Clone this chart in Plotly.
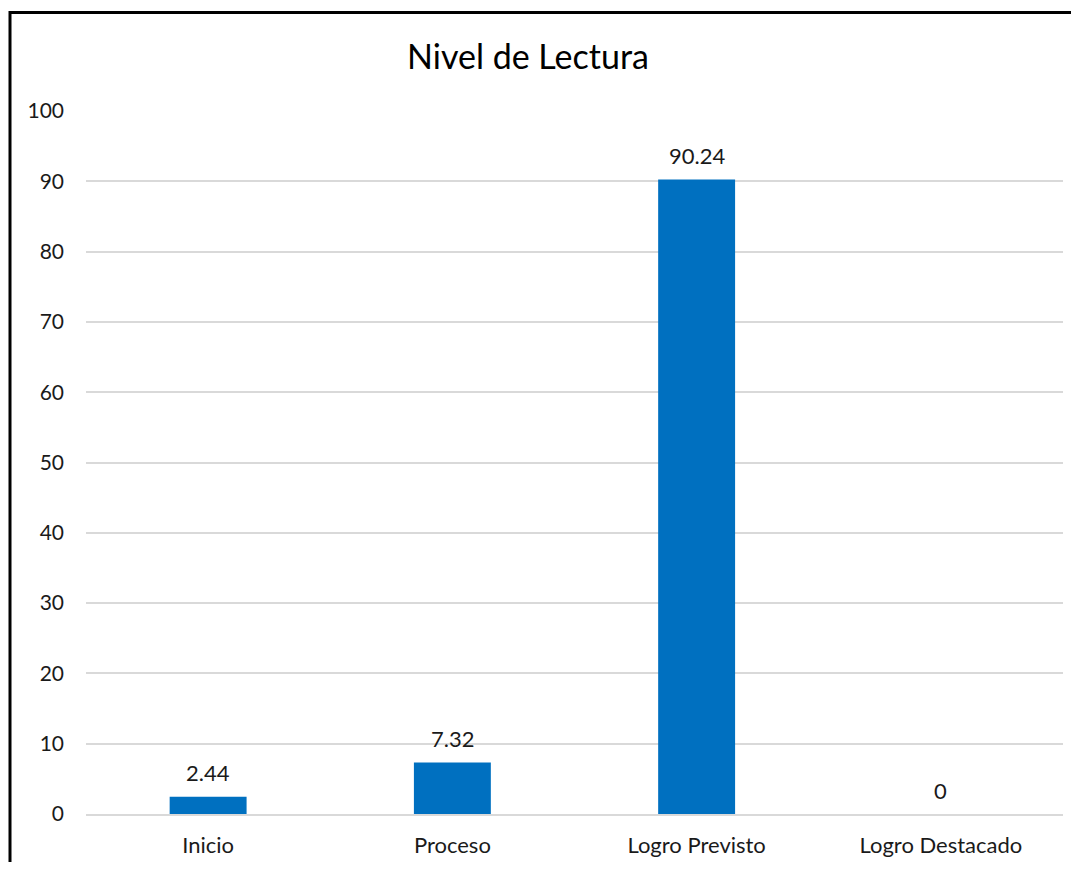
import plotly.graph_objects as go

categories = ["Inicio", "Proceso", "Logro Previsto", "Logro Destacado"]
values = [2.44, 7.32, 90.24, 0]
value_labels = ["2.44", "7.32", "90.24", "0"]
y_ticks = [0, 10, 20, 30, 40, 50, 60, 70, 80, 90, 100]

FONT = "Lato, Calibri, sans-serif"
TXT = "#1a1a1a"

fig = go.Figure()
fig.add_trace(go.Bar(
    x=categories, y=values,
    marker=dict(color="#0070C0", line=dict(width=0)),
    hoverinfo="x+y",
))

for c, v, t in zip(categories, values, value_labels):
    fig.add_annotation(x=c, y=v, text=t, showarrow=False,
                       yanchor="middle", yshift=24,
                       font=dict(family=FONT, size=22, color=TXT))

# page has an 8px body margin, so the figure is sized to fill the rest
W, H = 1063, 854
ml, mr, mt, mb = 78, 8, 103, 48
pw, ph = W - ml - mr, H - mt - mb

def px2x(px):
    return (px - ml) / pw

def py2y(py):
    return (H - mb - py) / ph

# chart-area border: only top and left edges are visible in the reference
fig.add_shape(type="line", xref="paper", yref="paper",
              x0=px2x(2), x1=px2x(W + 5), y0=py2y(4.5), y1=py2y(4.5),
              line=dict(color="black", width=3), layer="above")
fig.add_shape(type="line", xref="paper", yref="paper",
              x0=px2x(2), x1=px2x(2), y0=py2y(3), y1=py2y(H + 5),
              line=dict(color="black", width=3), layer="above")

fig.update_layout(
    width=W, height=H,
    margin=dict(l=ml, r=mr, t=mt, b=mb, autoexpand=False),
    paper_bgcolor="white", plot_bgcolor="white",
    title=dict(text="Nivel de Lectura", x=520 / W, xanchor="center",
               y=1 - 49 / H, yanchor="middle",
               font=dict(family=FONT, size=34, color="black")),
    bargap=0.685,
    showlegend=False,
    font=dict(family=FONT, size=21, color=TXT),
)
fig.update_xaxes(showgrid=False, showline=True, linecolor="#d9d9d9", linewidth=1.5,
                 ticks="", ticklabelstandoff=11, automargin=False,
                 tickfont=dict(family=FONT, size=22, color=TXT))
fig.update_yaxes(range=[0, 100], tickvals=y_ticks, showgrid=True,
                 gridcolor="#d9d9d9", gridwidth=1.5, zeroline=False,
                 showline=False, ticks="", ticklabelstandoff=21, automargin=False,
                 tickfont=dict(family=FONT, size=21, color=TXT))

fig.write_html("out.html")
